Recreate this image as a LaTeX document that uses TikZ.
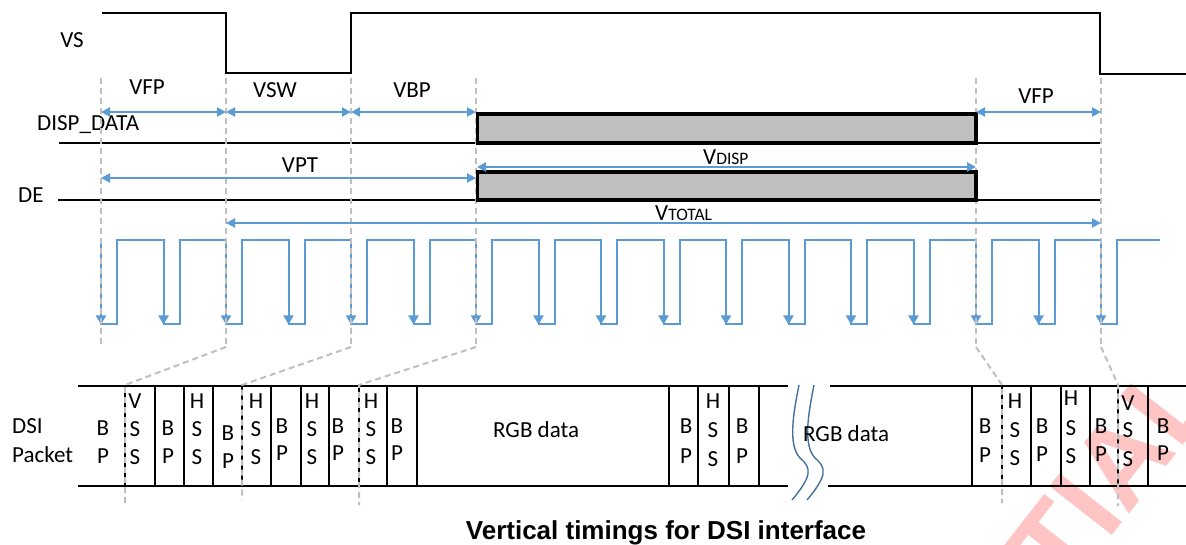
\documentclass[tikz,border=0pt]{standalone}
\usepackage{fontspec}
\setmainfont{Carlito}
\newfontfamily\capfont{Liberation Sans}
\usetikzlibrary{arrows.meta}
\definecolor{sigblue}{HTML}{5B9BD5}
\definecolor{guide}{HTML}{BFBFBF}
\definecolor{boxgray}{HTML}{BFBFBF}
\definecolor{breakblue}{HTML}{41719C}
\definecolor{wmpink}{HTML}{FFC4C4}
\begin{document}
\begin{tikzpicture}[x=1pt,y=-1pt,
  lbl/.style={font=\fontsize{23}{27}\selectfont, inner sep=0pt, anchor=base},
  lblw/.style={font=\fontsize{23}{27}\selectfont, inner sep=0pt, anchor=base west},
  sig/.style={black, line width=2pt},
  guideline/.style={guide, line width=2pt, dash pattern=on 6pt off 4pt},
  dim/.style={sigblue, line width=2pt, {Triangle[width=9pt,length=9pt]}-{Triangle[width=9pt,length=9pt]}},
  pulse/.style={sigblue, line width=2pt},
  pulsetip/.style={sigblue, line width=2pt, -{Triangle[width=10pt,length=9pt]}},
  databox/.style={draw=black, fill=boxgray, line width=3.5pt},
  breakline/.style={breakblue, line width=1.4pt},
  wmark/.style={font=\capfont\bfseries\fontsize{115}{115}\selectfont, inner sep=0pt, rotate=52, text=wmpink}
]
\useasboundingbox (0,0) rectangle (1186,545);
\fill[white] (0,0) rectangle (1186,545);

% watermark
\begin{scope}
\clip (0,0) rectangle (1186,545);
\node[wmark] (wm) at (1112,472) {TIAL};
\end{scope}

% VS
\draw[sig] (102,13) -- (226,13) -- (226,73) -- (351,73) -- (351,13) -- (1100,13) -- (1100,74) -- (1186,74);
\node[lbl] (vs) at (72,48) {VS};

% DISP_DATA and DE lines
\draw[sig] (59,143) -- (1100,143);
\draw[sig] (58,200) -- (1100,200);
\node[lblw] (dispdata) at (37,131) {DISP\_DATA};
\node[lblw] (de) at (18,203) {DE};

% pulse train
\draw[pulse] (101,240) \foreach \k in {0,...,15}{ -- ({101+62.5*\k},324) -- ({117+62.5*\k},324) -- ({117+62.5*\k},240) -- ({163.5+62.5*\k},240) } -- (1101,324) -- (1117,324) -- (1117,240) -- (1160,240);
\foreach \k in {0,...,16} \draw[pulsetip] ({101+62.5*\k},300) -- ({101+62.5*\k},324.5);

% guide lines
\foreach \x/\n in {101/a,226/b,351/c,476/d,976/e,1101/f} {
  \coordinate (g\n top) at (\x,78);
  \coordinate (g\n bot) at (\x,347);
}
\draw[guideline] (gatop) -- (gabot);
\draw[guideline] (gbtop) -- (gbbot);
\draw[guideline] (gctop) -- (gcbot);
\draw[guideline] (gdtop) -- (gdbot);
\draw[guideline] (getop) -- (gebot);
\draw[guideline] (gftop) -- (gfbot);

% data boxes
\draw[databox] (477.5,114) rectangle (976,143);
\draw[databox] (477.5,172) rectangle (976,200);

% dimension arrows
\coordinate (vfpL) at (101,112); \coordinate (vfpR) at (226,112);
\coordinate (vswR) at (351,112); \coordinate (vbpR) at (476,112);
\coordinate (vfp2L) at (976,112); \coordinate (vfp2R) at (1101,112);
\draw[dim] (vfpL) -- (vfpR);
\draw[dim] (vfpR) -- (vswR);
\draw[dim] (vswR) -- (vbpR);
\draw[dim] (vfp2L) -- (vfp2R);
\coordinate (vptL) at (101,178); \coordinate (vptR) at (476,178);
\draw[dim] (vptL) -- (vptR);
\coordinate (vdL) at (477,167); \coordinate (vdR) at (976,167);
\draw[dim] (vdL) -- (vdR);
\coordinate (vtL) at (226,223); \coordinate (vtR) at (1101,223);
\draw[dim] (vtL) -- (vtR);

\node[lbl] (vfp) at (147,95) {VFP};
\node[lbl] (vsw) at (275,98) {VSW};
\node[lbl] (vbp) at (412,98) {VBP};
\node[lbl] (vfp2) at (1036,104) {VFP};
\node[lbl] (vpt) at (300,173) {VPT};
\node[lblw] (vdisp) at (703,165) {V\fontsize{17.5}{20}\selectfont DISP};
\node[lblw] (vtotal) at (655,221) {V\fontsize{17.5}{20}\selectfont TOTAL};

% DSI packet
\draw[sig] (78,386) -- (788,386);
\draw[sig] (78,486) -- (788,486);
\draw[sig] (830,386) -- (1186,386);
\draw[sig] (828,486) -- (1186,486);
\foreach \x in {125,155,184,213,242,271,301,329,359,387,417,669,698,729,759,972,1002,1031,1061,1090,1118,1148}
  \draw[black, line width=2pt] (\x,386) -- (\x,486);

% guide continuations into packet
\draw[guideline] (gbbot) -- (125,385) -- (125,503);
\draw[guideline] (gcbot) -- (242,385) -- (242,500);
\draw[guideline] (gdbot) -- (359,385) -- (359,505);
\draw[guideline] (gebot) -- (1002,385) -- (1002,503);
\draw[guideline] (gfbot) -- (1118,385) -- (1118,506);

% break symbol
\draw[breakline] (799,385) .. controls (793,415) and (788,445) .. (800,458) .. controls (812,468) and (812,476) .. (792,500);
\draw[breakline] (814,385) .. controls (808,415) and (803,445) .. (815,458) .. controls (827,468) and (827,476) .. (807,500);

% labels in packet
\node[lblw] (dsi) at (12,433) {DSI};
\node[lblw] (packet) at (12,462) {Packet};
\foreach \n/\x/\y/\t in {
  c0a/103/435/B, c0b/103/463/P,
  c1a/135/408/V, c1b/135/436/S, c1c/135/464/S,
  c2a/168/435/B, c2b/168/463/P,
  c3a/197/408/H, c3b/197/436/S, c3c/197/464/S,
  c4a/228/440/B, c4b/228/468/P,
  c5a/256/408/H, c5b/256/436/S, c5c/256/464/S,
  c6a/282/433/B, c6b/282/460/P,
  c7a/312/408/H, c7b/312/436/S, c7c/312/464/S,
  c8a/338/433/B, c8b/338/460/P,
  c9a/371/408/H, c9b/371/436/S, c9c/371/464/S,
  c10a/397/433/B, c10b/397/460/P,
  c11a/686/433/B, c11b/686/463/P,
  c12a/713/408/H, c12b/713/437/S, c12c/713/466/S,
  c13a/742/433/B, c13b/742/463/P,
  c14a/985/433/B, c14b/985/462/P,
  c15a/1015/408/H, c15b/1015/437/S, c15c/1015/465/S,
  c16a/1042/433/B, c16b/1042/461/P,
  c17a/1071/405/H, c17b/1071/435/S, c17c/1071/463/S,
  c18a/1101/433/B, c18b/1101/461/P,
  c19a/1128/410/V, c19b/1128/437/S, c19c/1128/466/S,
  c20a/1163/433/B, c20b/1163/460/P}
  \node[lbl] (\n) at (\x,\y) {\t};
\node[lblw] (rgb1) at (493,437) {RGB data};
\node[lblw] (rgb2) at (803,441) {RGB data};

% caption
\node[font=\capfont\bfseries\fontsize{26}{30}\selectfont, inner sep=0pt, anchor=base] (caption) at (666,539) {Vertical timings for DSI interface};
\end{tikzpicture}
\end{document}
